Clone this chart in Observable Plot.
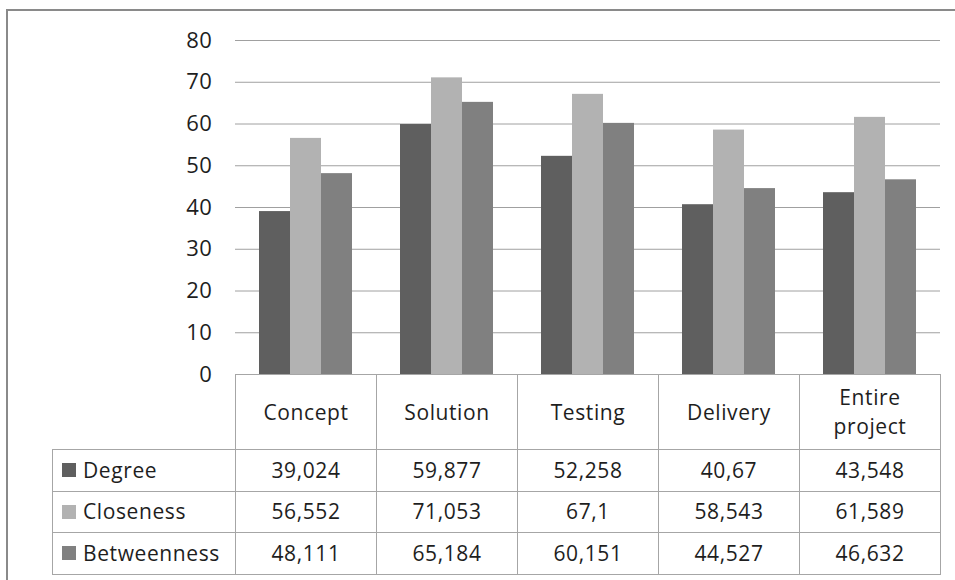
<!DOCTYPE html>
<html>
<head>
<meta charset="utf-8">
<script src="https://cdn.jsdelivr.net/npm/d3@7"></script>
<script src="https://cdn.jsdelivr.net/npm/@observablehq/plot@0.6"></script>
<style>
  html, body { margin: 0; padding: 0; background: #fff; }
  #wrap { position: relative; width: 955px; height: 580px; overflow: hidden; font-family: "Open Sans", sans-serif; color: #1e1e1e; }
  #frame { position: absolute; left: 6px; top: 9px; width: 960px; height: 600px; border-top: 2px solid #8a8a8a; border-left: 2px solid #8a8a8a; box-sizing: border-box; }
  #chart { position: absolute; left: 0; top: 0; }
  .cell { position: absolute; box-sizing: border-box; border: 1px solid #a6a6a6; display: flex; align-items: center; justify-content: center; text-align: center; font-size: 21px; letter-spacing: 0.6px; line-height: 29px; }
  .leg { justify-content: flex-start; padding-left: 9px; }
  .sw { width: 14px; height: 14px; margin-right: 7px; flex: none; }
</style>
</head>
<body>
<div id="wrap">
  <div id="frame"></div>
  <div id="chart"></div>
  <div id="table"></div>
</div>
<script>
const categories = ["Concept", "Solution", "Testing", "Delivery", "Entire project"];
const categoryLabels = ["Concept", "Solution", "Testing", "Delivery", "Entire<br>project"];
const series = ["Degree", "Closeness", "Betweenness"];
const colors = ["#5f5f5f", "#b2b2b2", "#808080"];
const degree = [39.024, 59.877, 52.258, 40.67, 43.548];
const closeness = [56.552, 71.053, 67.1, 58.543, 61.589];
const betweenness = [48.111, 65.184, 60.151, 44.527, 46.632];
const yTicks = [0, 10, 20, 30, 40, 50, 60, 70, 80];

const valuesBySeries = [degree, closeness, betweenness];
const data = [];
categories.forEach((c, i) => {
  series.forEach((s, j) => data.push({cat: c, series: s, value: valuesBySeries[j][i]}));
});

const W = 955, plotLeft = 235, plotRight = 940, plotTop = 40, plotBottom = 374;

const chart = Plot.plot({
  width: W,
  height: plotBottom + 20,
  marginLeft: plotLeft,
  marginRight: W - plotRight,
  marginTop: plotTop,
  marginBottom: 20,
  style: {fontFamily: "Open Sans, sans-serif", fontSize: "22px", color: "#1e1e1e", background: "transparent", letterSpacing: "0.6px", overflow: "visible"},
  fx: {domain: categories, padding: 0, axis: null},
  x: {domain: series, paddingInner: 0, paddingOuter: 0.75, axis: null},
  y: {domain: [0, 80], axis: null},
  color: {domain: series, range: colors},
  marks: [
    Plot.ruleY(yTicks, {stroke: "#a0a0a0", strokeWidth: 1}),
    Plot.barY(data, {fx: "cat", x: "series", y: "value", fill: "series"}),
    Plot.axisY({ticks: yTicks, tickSize: 0, tickPadding: 23, line: true, label: null, stroke: "#a0a0a0", fill: "#1e1e1e", fontSize: 22, tickFormat: d => String(d)})
  ]
});
document.getElementById("chart").appendChild(chart);

// Data table below the plot
const table = document.getElementById("table");
const colW = (plotRight - plotLeft) / categories.length;
const legLeft = 52;
const headerTop = plotBottom, headerH = 75;
const rowTops = [449, 490.5, 532, 573.5];
function cell(x, y, w, h, html, cls) {
  const d = document.createElement("div");
  d.className = "cell" + (cls ? " " + cls : "");
  d.style.left = x + "px"; d.style.top = y + "px";
  d.style.width = (w + 1) + "px"; d.style.height = (h + 1) + "px";
  d.innerHTML = html;
  table.appendChild(d);
  return d;
}
categoryLabels.forEach((c, i) => {
  cell(plotLeft + i * colW, headerTop, colW, headerH, c).style.background = "#fff";
});
const fmt = v => String(v).replace(".", ",");
series.forEach((s, j) => {
  const y = rowTops[j], h = rowTops[j + 1] - rowTops[j];
  cell(legLeft, y, plotLeft - legLeft, h, `<span class="sw" style="background:${colors[j]}"></span>${s}`, "leg");
  valuesBySeries[j].forEach((v, i) => {
    cell(plotLeft + i * colW, y, colW, h, fmt(v));
  });
});
</script>
</body>
</html>
